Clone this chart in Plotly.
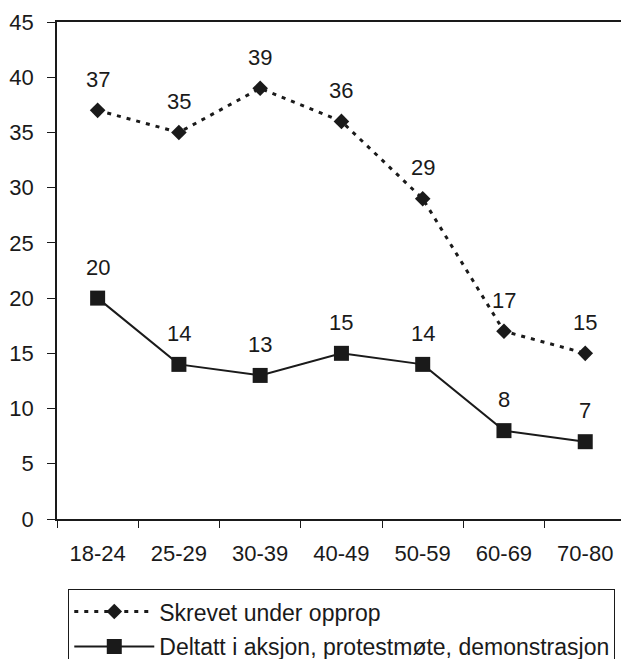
import plotly.graph_objects as go

categories = ["18-24", "25-29", "30-39", "40-49", "50-59", "60-69", "70-80"]
skrevet = [37, 35, 39, 36, 29, 17, 15]
deltatt = [20, 14, 13, 15, 14, 8, 7]
y_ticks = [0, 5, 10, 15, 20, 25, 30, 35, 40, 45]
names = ["Skrevet under opprop", "Deltatt i aksjon, protestmøte, demonstrasjon"]

FONT = "Arial, Liberation Sans, Helvetica, sans-serif"
INK = "#1a1a1a"
FS = 22

fig = go.Figure()
fig.add_trace(go.Scatter(
    x=categories, y=skrevet, name=names[0], mode="lines+markers", legendgroup="a",
    line=dict(color=INK, width=3, dash="4px,6px"),
    marker=dict(symbol="diamond", size=12, color=INK),
))
fig.add_trace(go.Scatter(
    x=categories, y=deltatt, name=names[1], mode="lines+markers", legendgroup="b",
    line=dict(color=INK, width=2),
    marker=dict(symbol="square", size=15, color=INK),
))

for series in (skrevet, deltatt):
    for c, v in zip(categories, series):
        fig.add_annotation(x=c, y=v, text=str(v), showarrow=False, yshift=31,
                           font=dict(family=FONT, size=FS, color=INK))

fig.update_layout(
    width=621, height=659,
    margin=dict(l=57, r=0, t=22, b=140, autoexpand=False),
    paper_bgcolor="white", plot_bgcolor="white",
    font=dict(family=FONT, size=FS, color=INK),
    showlegend=True,
    legend=dict(
        x=0.02, y=-0.141, xanchor="left", yanchor="top",
        bordercolor=INK, borderwidth=1, bgcolor="white",
        font=dict(family=FONT, size=23, color=INK),
        itemwidth=80, tracegroupgap=2,
    ),
)
fig.update_xaxes(
    type="category", categoryorder="array", categoryarray=categories,
    range=[-0.5, 6.44], showline=True, linecolor=INK, linewidth=1.5, mirror=True,
    ticks="outside", tickson="boundaries", ticklen=7, tickcolor=INK,
    showgrid=False, zeroline=False, ticklabelstandoff=14,
    tickfont=dict(family=FONT, size=FS, color=INK),
)
fig.update_yaxes(
    range=[0, 45], tickvals=y_ticks, showline=True, linecolor=INK, linewidth=1.5,
    mirror=True, ticks="outside", ticklen=8, tickcolor=INK,
    showgrid=False, zeroline=False, ticklabelstandoff=9,
    tickfont=dict(family=FONT, size=FS, color=INK),
)

fig.write_html("out.html")
